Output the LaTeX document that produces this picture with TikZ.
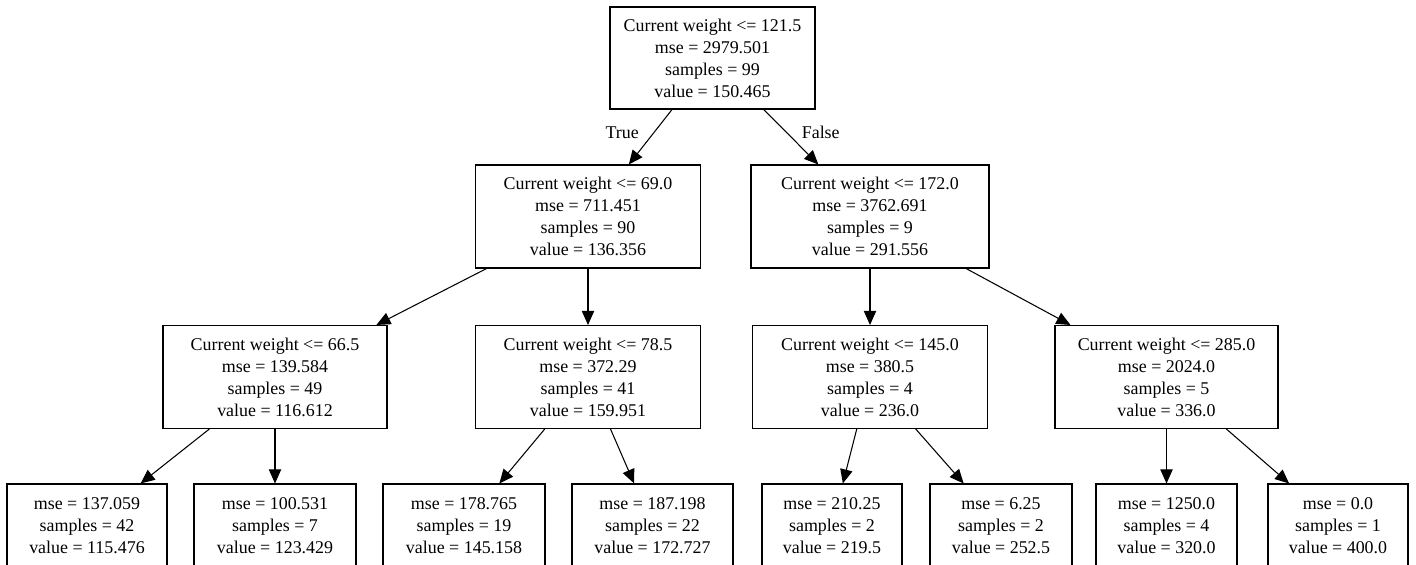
\documentclass[tikz,border=0pt]{standalone}
\usepackage{fontspec}
\setmainfont{Liberation Serif}
\usetikzlibrary{arrows.meta}

\begin{document}
\begin{tikzpicture}[
      >={Triangle[length=8pt,width=7pt]},
      every node/.style={font=\fontsize{10.2}{12.5}\selectfont},
      split/.style={draw, rectangle, line width=0.6pt, align=center, inner sep=0pt, minimum height=2.06cm},
      leaf/.style={draw, rectangle, line width=0.6pt, align=center, inner sep=0pt, minimum height=1.68cm},
      branch/.style={->, line width=0.6pt}
    ]
    \useasboundingbox (0,0) rectangle (28.32,-11.3);

    \node[split,minimum width=4.1cm,minimum height=2.04cm] (n0) at (14.25,-1.16) {Current weight <= 121.5\\mse = 2979.501\\samples = 99\\value = 150.465};

    \node[split,minimum width=4.5cm] (n1) at (11.76,-4.33) {Current weight <= 69.0\\mse = 711.451\\samples = 90\\value = 136.356};
    \node[split,minimum width=4.76cm] (n2) at (17.40,-4.33) {Current weight <= 172.0\\mse = 3762.691\\samples = 9\\value = 291.556};
    \path (n0) edge[branch] node[pos=0.42,left=5pt] {True} (n1);
    \path (n0) edge[branch] node[pos=0.42,right=5pt] {False} (n2);

    \node[split,minimum width=4.48cm] (n3) at (5.50,-7.54) {Current weight <= 66.5\\mse = 139.584\\samples = 49\\value = 116.612};
    \node[split,minimum width=4.5cm] (n4) at (11.76,-7.54) {Current weight <= 78.5\\mse = 372.29\\samples = 41\\value = 159.951};
    \node[split,minimum width=4.7cm] (n5) at (17.40,-7.54) {Current weight <= 145.0\\mse = 380.5\\samples = 4\\value = 236.0};
    \node[split,minimum width=4.46cm] (n6) at (23.33,-7.54) {Current weight <= 285.0\\mse = 2024.0\\samples = 5\\value = 336.0};
    \path (n1) edge[branch] (n3);
    \path (n1) edge[branch] (n4);
    \path (n2) edge[branch] (n5);
    \path (n2) edge[branch] (n6);

    % leaves
    \node[leaf,minimum width=3.2cm] (l1) at (1.74,-10.52) {mse = 137.059\\samples = 42\\value = 115.476};
    \node[leaf,minimum width=3.24cm] (l2) at (5.50,-10.52) {mse = 100.531\\samples = 7\\value = 123.429};
    \node[leaf,minimum width=3.24cm] (l3) at (9.28,-10.52) {mse = 178.765\\samples = 19\\value = 145.158};
    \node[leaf,minimum width=3.22cm] (l4) at (13.05,-10.52) {mse = 187.198\\samples = 22\\value = 172.727};
    \node[leaf,minimum width=2.8cm] (l5) at (16.64,-10.52) {mse = 210.25\\samples = 2\\value = 219.5};
    \node[leaf,minimum width=2.84cm] (l6) at (20.02,-10.52) {mse = 6.25\\samples = 2\\value = 252.5};
    \node[leaf,minimum width=2.82cm] (l7) at (23.33,-10.52) {mse = 1250.0\\samples = 4\\value = 320.0};
    \node[leaf,minimum width=2.8cm] (l8) at (26.76,-10.52) {mse = 0.0\\samples = 1\\value = 400.0};
    \path (n3) edge[branch] (l1);
    \path (n3) edge[branch] (l2);
    \path (n4) edge[branch] (l3);
    \path (n4) edge[branch] (l4);
    \path (n5) edge[branch] (l5);
    \path (n5) edge[branch] (l6);
    \path (n6) edge[branch] (l7);
    \path (n6) edge[branch] (l8);
  \end{tikzpicture}
\end{document}
